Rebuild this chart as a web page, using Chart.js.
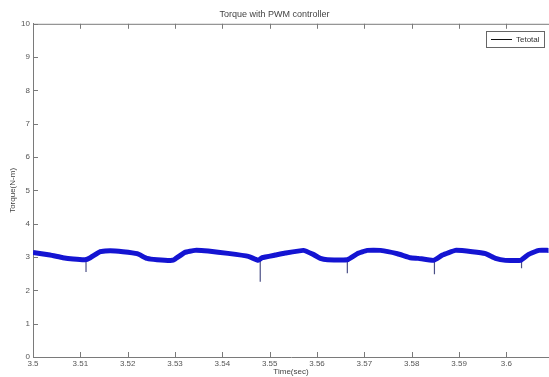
<!DOCTYPE html>
<html>
<head>
<meta charset="utf-8">
<script src="https://cdn.jsdelivr.net/npm/chart.js@4/dist/chart.umd.min.js"></script>
<style>
  html, body { margin: 0; padding: 0; background: #fff; }
  #wrap { width: 549px; height: 377px; }
</style>
</head>
<body>
<div id="wrap"><canvas id="torqueChart" width="549" height="377"></canvas></div>
<script>
// torque trace (time in s, torque in N-m)
const timeSec = [
    3.5000, 3.5036, 3.5063, 3.5085, 3.5110, 3.5121, 3.5142, 3.5163, 3.5190, 3.5220,
    3.5241, 3.5262, 3.5294, 3.5300, 3.5321, 3.5342, 3.5370, 3.5412, 3.5455, 3.5476,
    3.5484, 3.5512, 3.5533, 3.5571, 3.5592, 3.5607, 3.5622, 3.5664, 3.5685, 3.5706,
    3.5734, 3.5770, 3.5797, 3.5814, 3.5846, 3.5865, 3.5892, 3.5928, 3.5956, 3.5977,
    3.5998, 3.6030, 3.6047, 3.6068, 3.6089
];
const torque = [
    3.14, 3.06, 2.98, 2.94, 2.92, 2.98, 3.16, 3.19, 3.16, 3.10,
    2.96, 2.92, 2.90, 2.94, 3.14, 3.20, 3.18, 3.11, 3.02, 2.90,
    2.98, 3.06, 3.12, 3.20, 3.08, 2.96, 2.92, 2.92, 3.10, 3.20,
    3.20, 3.10, 2.98, 2.96, 2.90, 3.06, 3.20, 3.16, 3.10, 2.96,
    2.90, 2.90, 3.08, 3.20, 3.20
];

// short downward spikes at the switching instants
const spikeTime = [3.5112, 3.5480, 3.5664, 3.5848, 3.6032];
const spikeTop  = [2.92, 2.90, 2.92, 2.90, 2.90];
const spikeLow  = [2.55, 2.26, 2.51, 2.48, 2.66];

const xTicks = [3.5, 3.51, 3.52, 3.53, 3.54, 3.55, 3.56, 3.57, 3.58, 3.59, 3.6];
const xTickLabels = ['3.5', '3.51', '3.52', '3.53', '3.54', '3.55', '3.56', '3.57', '3.58', '3.59', '3.6'];
const yTicks = [0, 1, 2, 3, 4, 5, 6, 7, 8, 9, 10];

const axisColor = '#7a7a7a';
const textColor = '#555555';
const fontFamily = '"Liberation Sans", Arial, sans-serif';

const tracePoints = timeSec.map((t, i) => ({ x: t, y: torque[i] }));
const spikePoints = [];
spikeTime.forEach((t, i) => {
    spikePoints.push({ x: t, y: spikeTop[i] }, { x: t, y: spikeLow[i] }, { x: t, y: null });
});

// matlab style box: inward tick marks, top edge line, legend inside the axes
const boxAxes = {
    id: 'boxAxes',
    afterDraw(chart) {
        const { ctx, chartArea: a, scales: { x, y } } = chart;
        ctx.save();
        ctx.strokeStyle = axisColor;
        ctx.lineWidth = 1;
        ctx.beginPath();
        ctx.moveTo(a.left, a.top + 0.5);
        ctx.lineTo(a.right, a.top + 0.5);
        xTicks.forEach(v => {
            const px = Math.round(x.getPixelForValue(v)) + 0.5;
            ctx.moveTo(px, a.bottom);
            ctx.lineTo(px, a.bottom - 5);
            ctx.moveTo(px, a.top);
            ctx.lineTo(px, a.top + 5);
        });
        yTicks.forEach(v => {
            const py = Math.round(y.getPixelForValue(v)) + 0.5;
            ctx.moveTo(a.left, py);
            ctx.lineTo(a.left + 5, py);
        });
        ctx.stroke();

        // legend box
        const lx = 486, ly = 31, lw = 58, lh = 16;
        ctx.fillStyle = '#fff';
        ctx.fillRect(lx, ly, lw, lh);
        ctx.strokeStyle = '#666';
        ctx.strokeRect(lx + 0.5, ly + 0.5, lw, lh);
        ctx.strokeStyle = '#111';
        ctx.beginPath();
        ctx.moveTo(491, ly + 8.5);
        ctx.lineTo(512, ly + 8.5);
        ctx.stroke();
        ctx.fillStyle = '#333';
        ctx.font = '8px ' + fontFamily;
        ctx.textBaseline = 'middle';
        ctx.fillText(chart.data.datasets[0].label, 516, ly + 9);
        ctx.restore();
    }
};

new Chart(document.getElementById('torqueChart').getContext('2d'), {
    type: 'line',
    data: {
        datasets: [
            {
                label: 'Tetotal',
                data: tracePoints,
                borderColor: '#1414d2',
                borderWidth: 5,
                pointRadius: 0,
                tension: 0.1,
                fill: false
            },
            {
                label: 'spikes',
                data: spikePoints,
                borderColor: '#4a4f86',
                borderWidth: 1.2,
                pointRadius: 0,
                spanGaps: false,
                fill: false
            }
        ]
    },
    options: {
        responsive: false,
        animation: false,
        layout: { padding: { left: 0, right: 0, top: 0, bottom: 0 } },
        plugins: {
            legend: { display: false },
            tooltip: { enabled: false },
            title: {
                display: true,
                text: 'Torque with PWM controller',
                color: '#444',
                font: { family: fontFamily, size: 9, weight: 'normal' },
                padding: { top: 9, bottom: 4 }
            }
        },
        scales: {
            x: {
                type: 'linear',
                min: 3.5,
                max: 3.609,
                afterBuildTicks: s => { s.ticks = xTicks.map(v => ({ value: v })); },
                afterFit: s => { s.height = 20; },
                ticks: {
                    autoSkip: false,
                    maxRotation: 0,
                    padding: 2,
                    color: textColor,
                    font: { family: fontFamily, size: 8 },
                    callback: (v, i) => xTickLabels[i]
                },
                grid: { display: true, drawOnChartArea: false, drawTicks: false },
                border: { display: true, color: axisColor, width: 1 },
                title: {
                    display: true,
                    text: 'Time(sec)',
                    color: '#444',
                    font: { family: fontFamily, size: 8 },
                    padding: { top: 0, bottom: 0 }
                }
            },
            y: {
                type: 'linear',
                min: 0,
                max: 10,
                afterBuildTicks: s => { s.ticks = yTicks.map(v => ({ value: v })); },
                afterFit: s => { s.width = 33; },
                ticks: {
                    padding: 3,
                    color: textColor,
                    font: { family: fontFamily, size: 8 }
                },
                grid: { display: true, drawOnChartArea: false, drawTicks: false },
                border: { display: true, color: axisColor, width: 1 },
                title: {
                    display: true,
                    text: 'Torque(N-m)',
                    color: '#444',
                    font: { family: fontFamily, size: 8 },
                    padding: { top: 8, bottom: 0 }
                }
            }
        }
    },
    plugins: [boxAxes]
});
</script>
</body>
</html>
